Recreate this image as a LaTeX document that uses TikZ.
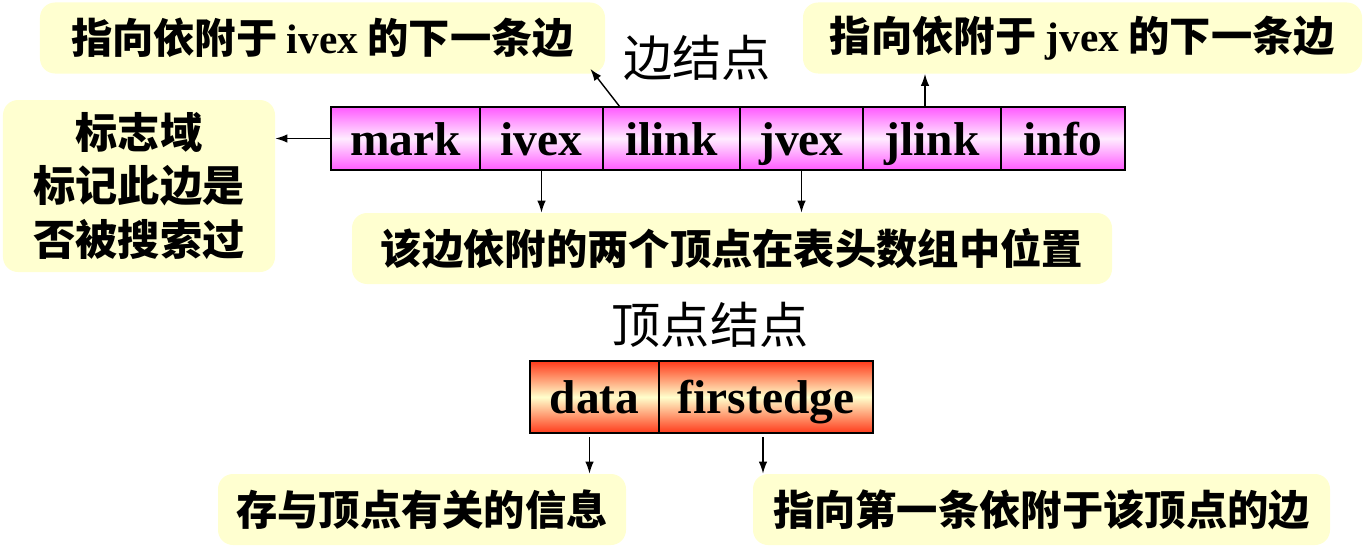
\documentclass[tikz,border=0pt]{standalone}
\usepackage{fontspec}
\setmainfont{Liberation Serif}
\newfontfamily\hei{Noto Sans CJK SC}
\usetikzlibrary{arrows.meta,positioning}
\definecolor{noteyellow}{RGB}{255,255,208}
\definecolor{edgepink}{RGB}{255,90,255}
\definecolor{edgelight}{RGB}{255,236,255}
\definecolor{vexred}{RGB}{255,58,26}
\definecolor{vexlight}{RGB}{255,255,204}

\begin{document}
\begin{tikzpicture}[
		field/.style={draw, thick, outer sep=0pt, inner sep=0pt, text height=0.72cm, text depth=0.06cm, font=\fontsize{27}{30}\selectfont\bfseries},
		edgefield/.style={field, minimum height=1.26cm, top color=edgepink, bottom color=edgepink, middle color=edgelight},
		vexfield/.style={field, minimum height=1.44cm, top color=vexred, bottom color=vexred, middle color=vexlight},
		note/.style={fill=noteyellow, rounded corners=0.3cm, align=center, minimum height=1.42cm, font=\fontsize{23.5}{30}\selectfont\hei\bfseries},
		title/.style={font=\fontsize{28}{30}\selectfont\hei},
		link/.style={-{Latex[length=2.4mm,width=1.7mm]}, line width=0.8pt},
	]
		\useasboundingbox (0,0) rectangle (27.44,-11.2);

		\node[title] (edgetitle) at (13.94,-1.16) {边结点};
		\node[edgefield, minimum width=2.98cm, anchor=west] (mark) at (6.62,-2.77) {mark};
		\node[edgefield, minimum width=2.46cm, right=0pt of mark] (ivex) {ivex};
		\node[edgefield, minimum width=2.74cm, right=0pt of ivex] (ilink) {ilink};
		\node[edgefield, minimum width=2.46cm, right=0pt of ilink] (jvex) {jvex};
		\node[edgefield, minimum width=2.76cm, right=0pt of jvex] (jlink) {jlink};
		\node[edgefield, minimum width=2.48cm, right=0pt of jlink] (info) {info};

		\node[note, minimum width=11.3cm] (inext) at (6.45,-0.76) {指向依附于 {\rmfamily ivex} 的下一条边};
		\node[note, minimum width=11.18cm] (jnext) at (21.65,-0.76) {指向依附于 {\rmfamily jvex} 的下一条边};
		\node[note, minimum width=5.44cm, minimum height=3.44cm, font=\fontsize{24}{30.5}\selectfont\hei\bfseries] (markbox) at (2.78,-3.72) {标志域\\标记此边是\\否被搜索过};
		\node[note, minimum width=15.2cm] (pos) at (14.64,-4.97) {该边依附的两个顶点在表头数组中位置};

		\node[title] (vextitle) at (14.2,-6.5) {顶点结点};
		\node[vexfield, minimum width=2.58cm, anchor=west] (data) at (10.6,-7.94) {data};
		\node[vexfield, minimum width=4.28cm, right=0pt of data] (first) {firstedge};

		\node[note, minimum width=8.16cm] (datainfo) at (8.44,-10.19) {存与顶点有关的信息};
		\node[note, minimum width=11.54cm] (firstinfo) at (20.83,-10.19) {指向第一条依附于该顶点的边};

		\draw[link] (mark.west) -- (mark.west -| markbox.east);
		\draw[link] ([xshift=0.34cm]ilink.north west) -- ([xshift=-0.3cm,yshift=0.1cm]inext.south east);
		\draw[link] ([xshift=-0.14cm]jlink.north) -- ([xshift=-0.14cm]jlink.north |- jnext.south);
		\draw[link] (ivex.south) -- (ivex.south |- pos.north);
		\draw[link] (jvex.south) -- (jvex.south |- pos.north);
		\draw[link] ([xshift=-0.1cm,yshift=-0.08cm]data.south) -- ([xshift=-0.1cm]data.south |- datainfo.north);
		\draw[link] ([xshift=-0.06cm,yshift=-0.08cm]first.south) -- ([xshift=-0.06cm]first.south |- firstinfo.north);
	\end{tikzpicture}
\end{document}
